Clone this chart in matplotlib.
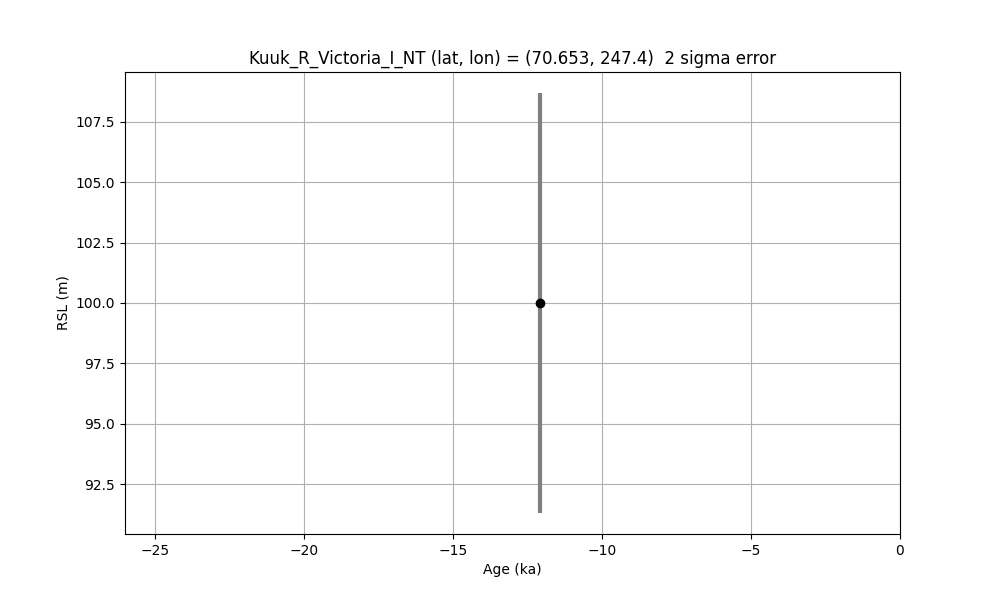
import numpy as np
import matplotlib
matplotlib.use('Agg')
import matplotlib.pyplot as plt

site = 'Kuuk_R_Victoria_I_NT'
lat, lon = 70.653, 247.4
age = [-12.08]
rsl = [100.0]
rsl_err = [8.68]

fig = plt.figure(figsize=(10, 6), dpi=100)
ax = fig.add_subplot(111)
ax.errorbar(age, rsl, yerr=rsl_err, fmt='none', ecolor='gray',
            elinewidth=3, capsize=0, zorder=3)
ax.plot(age, rsl, 'ko', markersize=6, zorder=4)
ax.set_xlim(-26, 0)
ax.grid(True)
ax.set_xlabel('Age (ka)')
ax.set_ylabel('RSL (m)')
ax.set_title('{} (lat, lon) = ({}, {})  2 sigma error'.format(site, lat, lon))
plt.savefig('out.png')
